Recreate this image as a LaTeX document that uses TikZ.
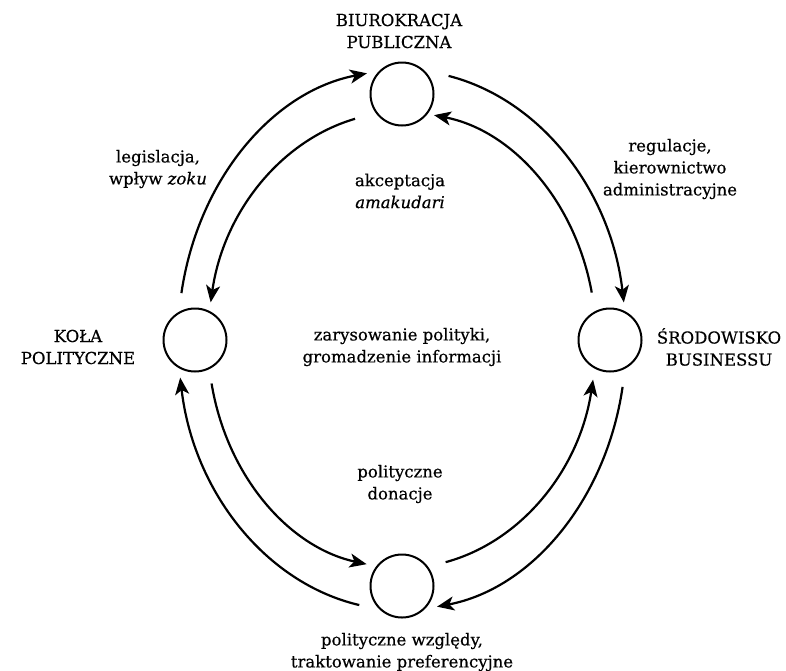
\documentclass[tikz,border=0pt]{standalone}
\usepackage{fontspec}
\setmainfont{DejaVu Serif}
\usetikzlibrary{arrows.meta}
\begin{document}
\begin{tikzpicture}[x=1pt,y=1pt,
  actor/.style={circle,draw,line width=2pt,minimum size=63pt,inner sep=0pt},
  lbl/.style={align=center,font=\fontsize{16.5}{22}\selectfont\addfontfeature{FakeBold=0.5},inner sep=0pt},
  flow/.style={line width=2.2pt,-{Stealth[length=17pt,width=14pt,inset=4.5pt]}},
]
\useasboundingbox (0,0) rectangle (786,-670);
\coordinate (c) at (402,-340);
% actors
\node[actor] (top) at (402,-94) {};
\node[actor] (left) at (195,-340) {};
\node[actor] (right) at (610,-340) {};
\node[actor] (bottom) at (402,-586) {};
% labels
\node[lbl] (ltop) at (399,-31) {BIUROKRACJA\\PUBLICZNA};
\node[lbl] (lleft) at (78,-347) {KOŁA\\POLITYCZNE};
\node[lbl] (lright) at (719,-347) {ŚRODOWISKO\\BUSINESSU};
\node[lbl] (lbottom) at (402,-652) {polityczne względy,\\traktowanie preferencyjne};
\node[lbl] (lleg) at (158,-169) {legislacja,\\wpływ \textit{zoku}};
\node[lbl] (lreg) at (670,-169) {regulacje,\\kierownictwo\\administracyjne};
\node[lbl] (lakc) at (400,-191) {akceptacja\\\textit{amakudari}};
\node[lbl] (lzar) at (402,-347) {zarysowanie polityki,\\gromadzenie informacji};
\node[lbl] (ldon) at (400,-484) {polityczne\\donacje};
% outer ring (clockwise)
\draw[flow] (c) ++(170:224 and 270) arc[start angle=170,end angle=99,x radius=224,y radius=270];
\draw[flow] (c) ++(78:224 and 270) arc[start angle=78,end angle=8,x radius=224,y radius=270];
\draw[flow] (c) ++(350:224 and 270) arc[start angle=350,end angle=279,x radius=224,y radius=270];
\draw[flow] (c) ++(259:224 and 270) arc[start angle=259,end angle=188,x radius=224,y radius=270];
% inner ring (counter-clockwise)
\draw[flow] (c) ++(104:194 and 228) arc[start angle=104,end angle=170.5,x radius=194,y radius=228];
\draw[flow] (c) ++(191:194 and 228) arc[start angle=191,end angle=259.5,x radius=194,y radius=228];
\draw[flow] (c) ++(283:194 and 228) arc[start angle=283,end angle=350,x radius=194,y radius=228];
\draw[flow] (c) ++(12:194 and 228) arc[start angle=12,end angle=80.5,x radius=194,y radius=228];
\end{tikzpicture}
\end{document}
